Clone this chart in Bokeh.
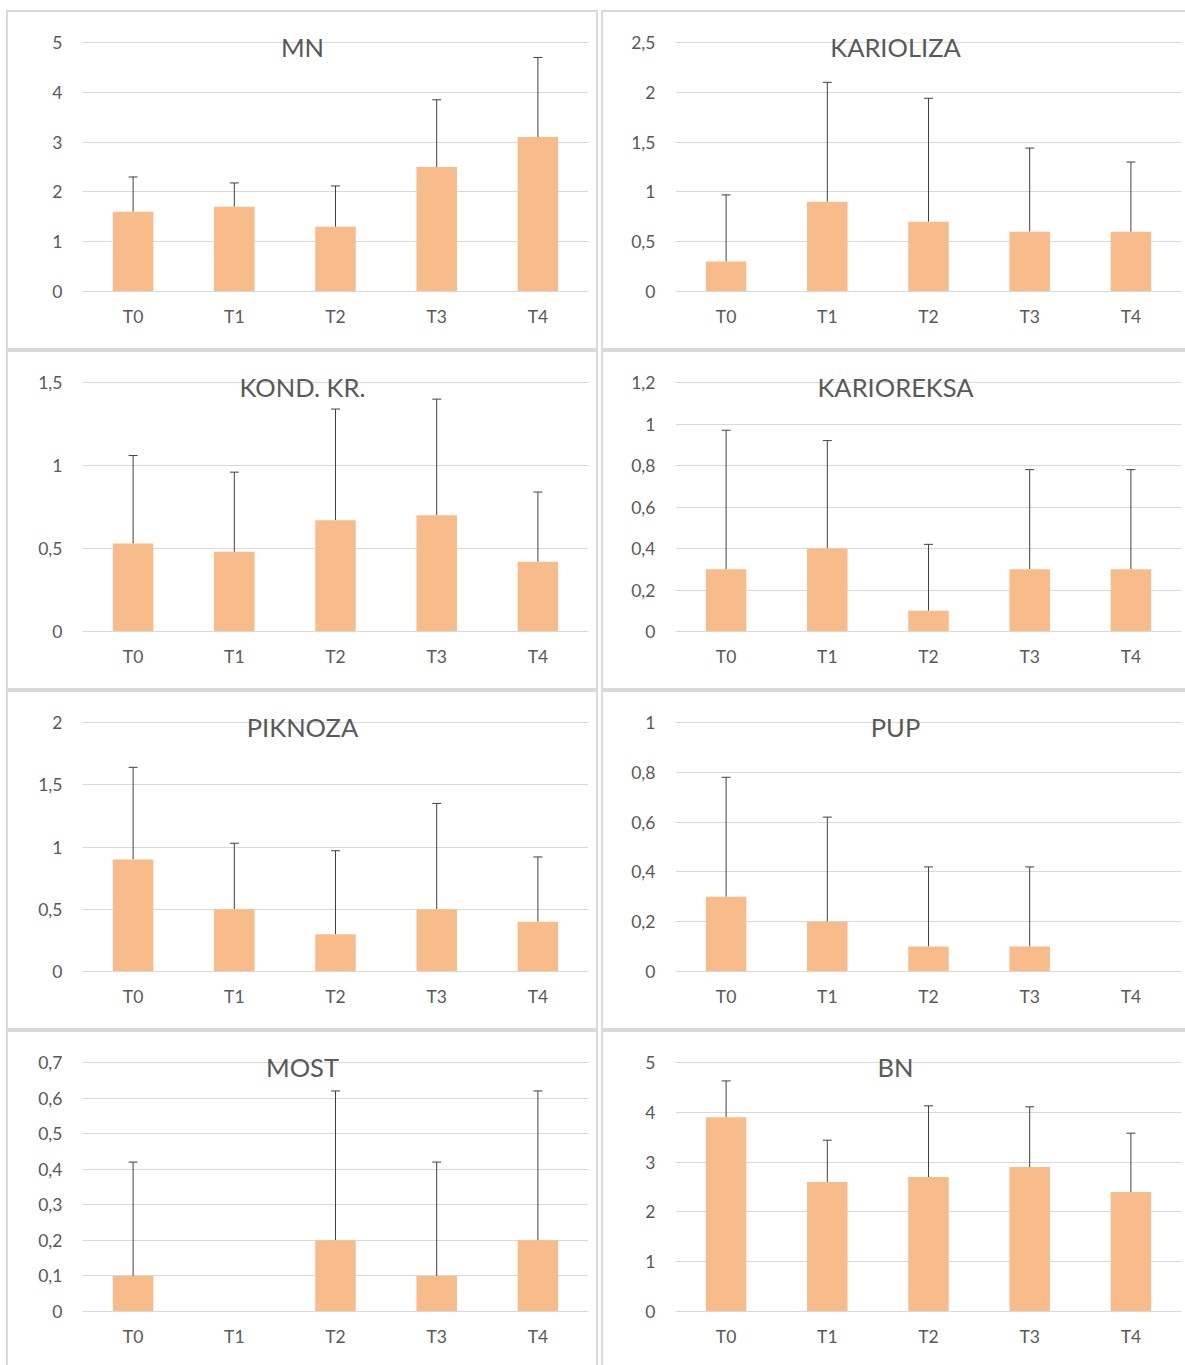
from bokeh.plotting import figure
from bokeh.layouts import row, column
from bokeh.models import (ColumnDataSource, FactorRange, Range1d, FixedTicker,
                          CustomJSTickFormatter, Whisker, TeeHead, Label)
from bokeh.embed import file_html
from bokeh.resources import INLINE

# ---------------- data ----------------
CATEGORIES = ["T0", "T1", "T2", "T3", "T4"]

MN_MEAN = [1.6, 1.7, 1.3, 2.5, 3.1]
MN_SD = [0.7, 0.48, 0.82, 1.35, 1.6]
MN_TICKS = [0, 1, 2, 3, 4, 5]

KARIOLIZA_MEAN = [0.3, 0.9, 0.7, 0.6, 0.6]
KARIOLIZA_SD = [0.67, 1.2, 1.24, 0.84, 0.7]
KARIOLIZA_TICKS = [0, 0.5, 1, 1.5, 2, 2.5]

KOND_MEAN = [0.53, 0.48, 0.67, 0.7, 0.42]
KOND_SD = [0.53, 0.48, 0.67, 0.7, 0.42]
KOND_TICKS = [0, 0.5, 1, 1.5]

KARIOREKSA_MEAN = [0.3, 0.4, 0.1, 0.3, 0.3]
KARIOREKSA_SD = [0.67, 0.52, 0.32, 0.48, 0.48]
KARIOREKSA_TICKS = [0, 0.2, 0.4, 0.6, 0.8, 1, 1.2]

PIKNOZA_MEAN = [0.9, 0.5, 0.3, 0.5, 0.4]
PIKNOZA_SD = [0.74, 0.53, 0.67, 0.85, 0.52]
PIKNOZA_TICKS = [0, 0.5, 1, 1.5, 2]

PUP_MEAN = [0.3, 0.2, 0.1, 0.1, 0]
PUP_SD = [0.48, 0.42, 0.32, 0.32, 0]
PUP_TICKS = [0, 0.2, 0.4, 0.6, 0.8, 1]

MOST_MEAN = [0.1, 0, 0.2, 0.1, 0.2]
MOST_SD = [0.32, 0, 0.42, 0.32, 0.42]
MOST_TICKS = [0, 0.1, 0.2, 0.3, 0.4, 0.5, 0.6, 0.7]

BN_MEAN = [3.9, 2.6, 2.7, 2.9, 2.4]
BN_SD = [0.73, 0.84, 1.43, 1.21, 1.18]
BN_TICKS = [0, 1, 2, 3, 4, 5]

PANELS = [
    ("MN", MN_MEAN, MN_SD, MN_TICKS),
    ("KARIOLIZA", KARIOLIZA_MEAN, KARIOLIZA_SD, KARIOLIZA_TICKS),
    ("KOND. KR.", KOND_MEAN, KOND_SD, KOND_TICKS),
    ("KARIOREKSA", KARIOREKSA_MEAN, KARIOREKSA_SD, KARIOREKSA_TICKS),
    ("PIKNOZA", PIKNOZA_MEAN, PIKNOZA_SD, PIKNOZA_TICKS),
    ("PUP", PUP_MEAN, PUP_SD, PUP_TICKS),
    ("MOST", MOST_MEAN, MOST_SD, MOST_TICKS),
    ("BN", BN_MEAN, BN_SD, BN_TICKS),
]

# ---------------- style ----------------
BAR_COLOR = "#F7BC8A"
GRID_COLOR = "#D9D9D9"
TEXT_COLOR = "#595959"
ERR_COLOR = "#404040"
FONT = "Lato"
BORDER = "2px solid #D9D9D9"

FRAME_W = 506
FRAME_H = 259
SPAN = 249          # pixels from 0 to top tick
TOP_BORDER = 20


def make_panel(title, mean, sd, ticks, col, last_row):
    top = ticks[-1]
    end = top * FRAME_H / SPAN
    left = 74 if col == 0 else 72
    width = 592 if col == 0 else 584
    height = 335 if last_row else 340
    p = figure(x_range=FactorRange(*CATEGORIES), y_range=Range1d(0, end),
               width=width, height=height,
               min_border_left=left, min_border_right=width - left - FRAME_W,
               min_border_top=TOP_BORDER,
               min_border_bottom=height - TOP_BORDER - FRAME_H,
               toolbar_location=None, output_backend="svg",
               background_fill_color="white", border_fill_color="white")
    p.outline_line_color = None
    p.xgrid.grid_line_color = None
    p.ygrid.grid_line_color = GRID_COLOR
    p.ygrid.grid_line_width = 1

    src = ColumnDataSource(dict(cat=CATEGORIES, val=mean))
    p.vbar(x="cat", top="val", width=0.4, source=src,
           fill_color=BAR_COLOR, line_color=None)

    ecat = [c for c, s in zip(CATEGORIES, sd) if s > 0]
    elow = [m for m, s in zip(mean, sd) if s > 0]
    eup = [m + s for m, s in zip(mean, sd) if s > 0]
    esrc = ColumnDataSource(dict(cat=ecat, lower=elow, upper=eup))
    w = Whisker(source=esrc, base="cat", lower="lower", upper="upper",
                dimension="height", line_color=ERR_COLOR, line_width=1,
                upper_head=TeeHead(size=9, line_color=ERR_COLOR, line_width=1),
                lower_head=None)
    p.add_layout(w)

    p.yaxis.ticker = FixedTicker(ticks=ticks)
    p.yaxis.formatter = CustomJSTickFormatter(code="return String(tick).replace('.', ',');")
    p.yaxis.axis_line_color = None
    p.yaxis.major_tick_line_color = None
    p.yaxis.minor_tick_line_color = None
    p.yaxis.major_label_standoff = 14
    p.yaxis.major_label_text_font = FONT
    p.yaxis.major_label_text_font_size = "17.5px"
    p.yaxis.major_label_text_color = TEXT_COLOR

    p.xaxis.axis_line_color = GRID_COLOR
    p.xaxis.major_tick_line_color = None
    p.xaxis.minor_tick_line_color = None
    p.xaxis.major_label_standoff = 8
    p.xaxis.major_label_text_font = FONT
    p.xaxis.major_label_text_font_size = "17.5px"
    p.xaxis.major_label_text_color = TEXT_COLOR

    lab = Label(x=2.5, y=top, x_offset=-33, y_offset=-4, text=title,
                text_align="center", text_baseline="alphabetic",
                text_font=FONT, text_font_size="25.5px", text_color=TEXT_COLOR)
    p.add_layout(lab)

    st = {"border-top": BORDER, "border-left": BORDER}
    if col == 0:
        st["border-right"] = BORDER
    if not last_row:
        st["border-bottom"] = BORDER
    p.styles = st
    return p


rows = []
for r in range(4):
    figs = []
    for c in range(2):
        t, m, s, tk = PANELS[r * 2 + c]
        figs.append(make_panel(t, m, s, tk, c, r == 3))
    rows.append(row(*figs, spacing=3))

root = column(*rows)
root.styles = {"margin-left": "6px", "margin-top": "10px"}

open("out.html", "w").write(file_html(root, INLINE))
